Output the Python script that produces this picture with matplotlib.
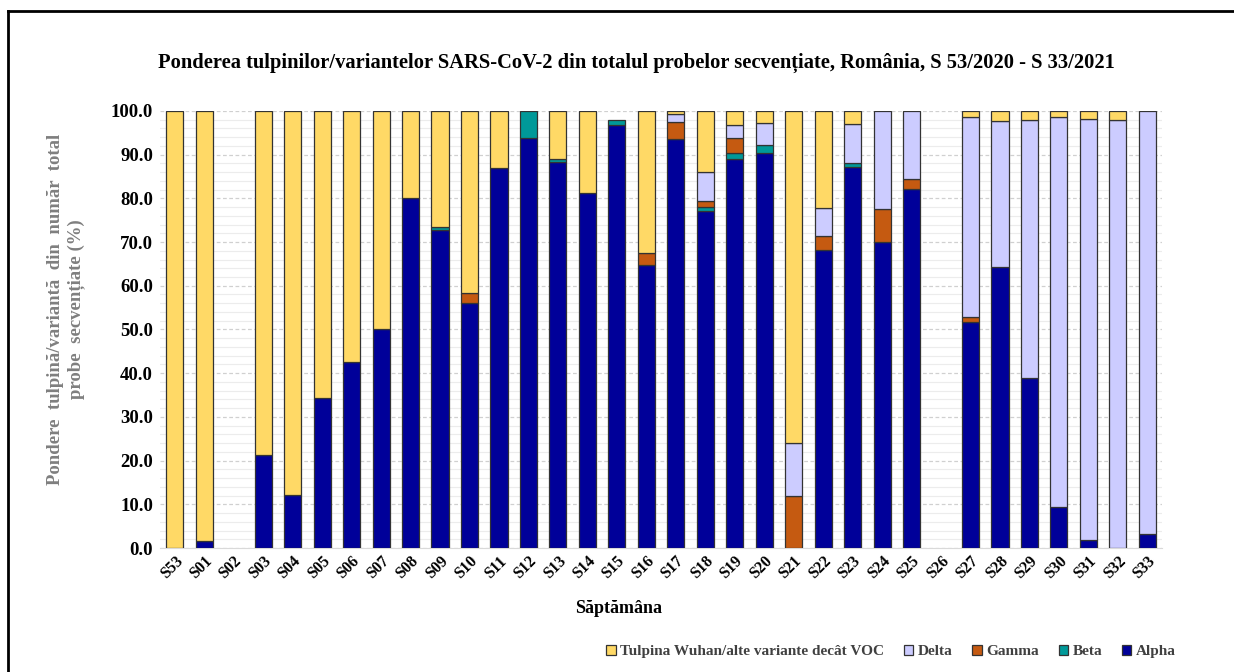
import matplotlib.pyplot as plt
from matplotlib.lines import Line2D
import numpy as np

plt.rcParams['font.family'] = ['Liberation Serif', 'DejaVu Serif']

weeks = ['S53', 'S01', 'S02', 'S03', 'S04', 'S05', 'S06', 'S07', 'S08', 'S09',
         'S10', 'S11', 'S12', 'S13', 'S14', 'S15', 'S16', 'S17', 'S18', 'S19',
         'S20', 'S21', 'S22', 'S23', 'S24', 'S25', 'S26', 'S27', 'S28', 'S29',
         'S30', 'S31', 'S32', 'S33']

alpha = [0, 1.5, 0, 21.3, 12.2, 34.4, 42.6, 50.0, 80.1, 72.7,
         56.0, 87.0, 93.7, 88.3, 81.3, 96.7, 64.7, 93.5, 77.1, 88.9,
         90.3, 0, 68.1, 87.2, 70.1, 82.1, 0, 51.6, 64.4, 38.8,
         9.4, 1.8, 0, 3.1]
beta = [0, 0, 0, 0, 0, 0, 0, 0, 0, 0.8,
        0, 0, 6.3, 0.8, 0, 1.2, 0, 0, 1.0, 1.5,
        1.9, 0, 0, 0.9, 0, 0, 0, 0, 0, 0,
        0, 0, 0, 0]
gamma = [0, 0, 0, 0, 0, 0, 0, 0, 0, 0,
         2.4, 0, 0, 0, 0, 0, 2.9, 4.0, 1.2, 3.3,
         0, 12.0, 3.3, 0, 7.4, 2.3, 0, 1.3, 0, 0,
         0, 0, 0, 0]
delta = [0, 0, 0, 0, 0, 0, 0, 0, 0, 0,
         0, 0, 0, 0, 0, 0, 0, 1.9, 6.8, 3.0,
         5.1, 12.1, 6.3, 8.9, 22.5, 15.6, 0, 45.7, 33.2, 59.0,
         89.2, 96.3, 97.8, 96.9]
wuhan = [100, 98.5, 0, 78.7, 87.8, 65.6, 57.4, 50.0, 19.9, 26.5,
         41.6, 13.0, 0, 10.9, 18.7, 0, 32.4, 0.6, 13.9, 3.3,
         2.7, 75.9, 22.3, 3.0, 0, 0, 0, 1.4, 2.4, 2.2,
         1.4, 1.9, 2.2, 0]

series = [('Alpha', alpha, '#000099'),
          ('Beta', beta, '#009999'),
          ('Gamma', gamma, '#C55A11'),
          ('Delta', delta, '#CCCCFF'),
          ('Tulpina Wuhan/alte variante decât VOC', wuhan, '#FFD966')]

fig = plt.figure(figsize=(12.34, 6.72), dpi=100)
ax = fig.add_axes([0.1297, 0.1845, 0.812, 0.6505])

x = np.arange(len(weeks))
bottom = np.zeros(len(weeks))
handles = {}
for name, vals, col in series:
    vals = np.array(vals, dtype=float)
    keep = vals > 0  # no flat outline for empty segments
    b = ax.bar(x[keep], vals[keep], 0.58, bottom=bottom[keep], color=col,
               edgecolor='#333333', linewidth=0.9, zorder=3, label=name)
    handles[name] = b
    bottom += vals

ax.set_xlim(-0.5, len(weeks) - 0.5)
ax.set_ylim(0, 100)
ax.set_yticks(np.arange(0, 101, 10))
ax.set_yticklabels(['%.1f' % v for v in np.arange(0, 101, 10)],
                   fontsize=13.5, fontweight='bold')
ax.set_yticks(np.arange(0, 101, 2), minor=True)
ax.grid(axis='y', which='major', color='#d0d0d0', linestyle=(0, (3, 2)), linewidth=0.9, zorder=0)
ax.grid(axis='y', which='minor', color='#ececec', linestyle='-', linewidth=0.8, zorder=0)
ax.tick_params(axis='both', which='both', length=0)
ax.tick_params(axis='y', pad=5)
ax.set_xticks(x)
ax.set_xticklabels(weeks, rotation=45, ha='right', rotation_mode='anchor',
                   fontsize=11.5, fontweight='bold')
for s in ['top', 'right', 'left']:
    ax.spines[s].set_visible(False)
ax.spines['bottom'].set_color('#d9d9d9')

ax.set_ylabel('Pondere  tulpină/variantă  din  număr  total\nprobe  secvențiate (%)',
              fontsize=13.5, fontweight='bold', color='#7f7f7f')
ax.yaxis.set_label_coords(-0.075, 0.546)
ax.set_xlabel('Săptămâna', fontsize=13, fontweight='bold')
ax.xaxis.set_label_coords(0.458, -0.119)

fig.text(0.516, 0.907,
         'Ponderea tulpinilor/variantelor SARS-CoV-2 din totalul probelor secvențiate, România, S 53/2020 - S 33/2021',
         ha='center', va='center', fontsize=14.8, fontweight='bold')

order = ['Tulpina Wuhan/alte variante decât VOC', 'Delta', 'Gamma', 'Beta', 'Alpha']
leg = fig.legend([handles[n] for n in order], order, loc='center',
                 bbox_to_anchor=(0.722, 0.03), ncol=5, frameon=False,
                 handlelength=0.6, handleheight=0.6,
                 handletextpad=0.3, columnspacing=1.3,
                 prop={'weight': 'bold', 'size': 11})
for t in leg.get_texts():
    t.set_color('#404040')

# frame around the figure (top and left edges visible)
fig.add_artist(Line2D([0.0068, 1.0], [0.9830, 0.9830], color='black', linewidth=2,
                      transform=fig.transFigure))
fig.add_artist(Line2D([0.0068, 0.0068], [0.0, 0.9830], color='black', linewidth=2,
                      transform=fig.transFigure))

fig.savefig('out.png', dpi=100)
